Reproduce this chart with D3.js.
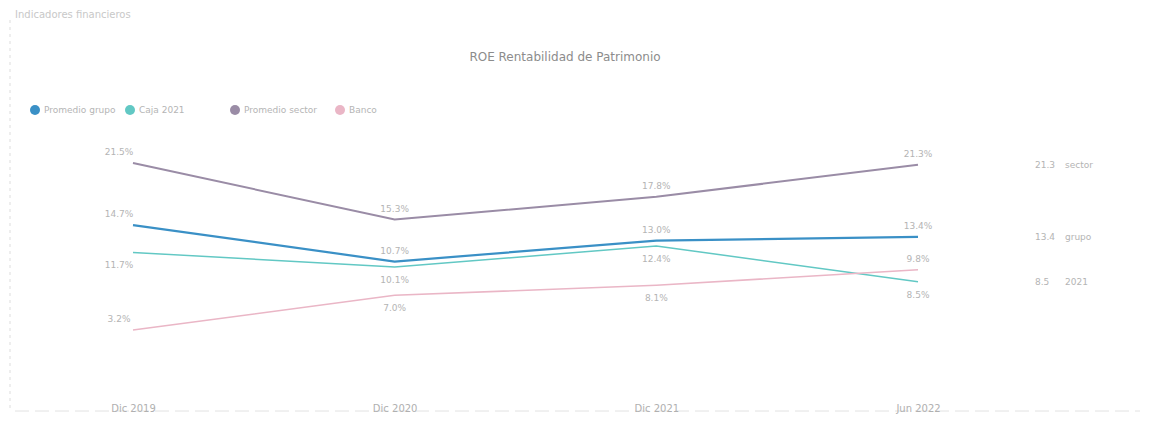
<!DOCTYPE html>
<html>
<head>
<meta charset="utf-8">
<script src="https://cdn.jsdelivr.net/npm/d3@7"></script>
<style>
  body { margin: 0; background: #fff; }
  text { font-family: "DejaVu Sans", sans-serif; }
  .lbl { fill: #b4b4b4; font-size: 9px; }
</style>
</head>
<body>
<div id="chart"></div>
<script>
var width = 1151, height = 425;

// datos (ROE %)
var periods = ["Dic 2019", "Dic 2020", "Dic 2021", "Jun 2022"];
var seriesNames = ["Promedio grupo", "Caja 2021", "Promedio sector", "Banco"];
var seriesColors = ["#3a90c6", "#62c8c4", "#9a8ca6", "#eab6c6"];
var promedioGrupo = [14.7, 10.7, 13.0, 13.4];
var caja2021 = [11.7, 10.1, 12.4, 8.5];
var promedioSector = [21.5, 15.3, 17.8, 21.3];
var banco = [3.2, 7.0, 8.1, 9.8];

// etiqueta arriba (-1) o abajo (1) de cada punto
var labelSide = [[-1, -1, -1, -1], [1, 1, 1, 1], [-1, -1, -1, -1], [-1, 1, 1, -1]];

var series = [promedioGrupo, caja2021, promedioSector, banco].map(function(v, i) {
  return { name: seriesNames[i], color: seriesColors[i], values: v, side: labelSide[i] };
});

var svg = d3.select("#chart").append("svg")
  .attr("width", width)
  .attr("height", height);

var x = d3.scalePoint()
  .domain(periods)
  .range([133, 918]);

var y = d3.scaleLinear()
  .domain([3.2, 21.5])
  .range([330, 163]);

// marco tenue
svg.append("line")
  .attr("x1", 10).attr("x2", 10).attr("y1", 20).attr("y2", 410)
  .attr("stroke", "#ddd").attr("stroke-dasharray", "3,4");
svg.append("line")
  .attr("x1", 15).attr("x2", 1140).attr("y1", 411).attr("y2", 411)
  .attr("stroke", "#e2e2e2").attr("stroke-dasharray", "14,6");

svg.append("text")
  .attr("x", 15).attr("y", 18)
  .attr("fill", "#c8c8c8").attr("font-size", 10)
  .text("Indicadores financieros");

svg.append("text")
  .attr("x", 565).attr("y", 61)
  .attr("text-anchor", "middle")
  .attr("fill", "#8c8c8c").attr("font-size", 12)
  .text("ROE Rentabilidad de Patrimonio");

// leyenda
var legendX = [35, 130, 235, 340];
var legend = svg.selectAll(".legend")
  .data(series)
  .enter().append("g")
    .attr("class", "legend")
    .attr("transform", function(d, i) { return "translate(" + legendX[i] + ",110)"; });

legend.append("circle")
  .attr("r", 5)
  .attr("fill", function(d) { return d.color; });

legend.append("text")
  .attr("x", 9).attr("dy", "0.35em")
  .attr("fill", "#b5b5b5").attr("font-size", 9)
  .text(function(d) { return d.name; });

// eje x
var xAxis = svg.append("g")
  .attr("transform", "translate(0,405)")
  .call(d3.axisBottom(x).tickSize(0).tickPadding(0));
xAxis.select(".domain").remove();
xAxis.selectAll("text").attr("fill", "#b0b0b0").attr("font-size", 10);

var line = d3.line()
  .x(function(d, i) { return x(periods[i]); })
  .y(function(d) { return y(d); });

var widths = [2.2, 1.5, 2, 1.6];

svg.selectAll(".serie")
  .data(series)
  .enter().append("path")
    .attr("class", "serie")
    .attr("fill", "none")
    .attr("stroke", function(d) { return d.color; })
    .attr("stroke-width", function(d, i) { return widths[i]; })
    .attr("d", function(d) { return line(d.values); });

// etiquetas de datos
series.forEach(function(s) {
  svg.selectAll(null)
    .data(s.values)
    .enter().append("text")
      .attr("class", "lbl")
      .attr("x", function(d, i) { return x(periods[i]) + (i === 0 ? -14 : 0); })
      .attr("y", function(d, i) { return y(d) + (s.side[i] < 0 ? -8 : 16); })
      .attr("text-anchor", "middle")
      .text(function(d) { return d3.format(".1f")(d) + "%"; });
});

// etiquetas finales a la derecha
[2, 0, 1].forEach(function(k) {
  var s = series[k];
  var g = svg.append("g")
    .attr("transform", "translate(1035," + y(s.values[3]) + ")");
  g.append("text")
    .attr("class", "lbl").attr("dy", "0.35em")
    .text(d3.format(".1f")(s.values[3]));
  g.append("text")
    .attr("class", "lbl").attr("x", 30).attr("dy", "0.35em")
    .text(s.name.split(" ").pop());
});
</script>
</body>
</html>
